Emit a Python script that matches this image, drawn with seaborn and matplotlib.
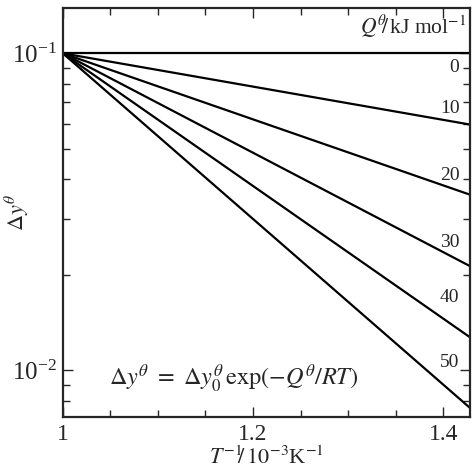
import pandas as pd
import matplotlib
matplotlib.use("Agg")
import matplotlib.pyplot as plt
import seaborn as sns
from matplotlib.ticker import MultipleLocator, LogLocator, NullFormatter

# activation energies (kJ/mol) and the line end values
q_values = [0, 10, 20, 30, 40, 50]
x_start, x_end = 1.0, 1.428
y_start = 0.1
y_end = [0.1, 0.0596, 0.0358, 0.0213, 0.0127, 0.0076]

# where the Q labels sit
label_x = 1.417
label_y = [0.0905, 0.067, 0.0412, 0.0252, 0.0170, 0.0106]

rows = []
for q, ye in zip(q_values, y_end):
    rows.append({"Q": q, "x": x_start, "y": y_start})
    rows.append({"Q": q, "x": x_end, "y": ye})
df = pd.DataFrame(rows)

sns.set_style("ticks")
plt.rcParams["font.family"] = ["Liberation Serif", "DejaVu Serif"]
plt.rcParams["mathtext.fontset"] = "stix"

fig = plt.figure(figsize=(4.76, 4.74), dpi=100)
ax = fig.add_axes([0.132, 0.120, 0.855, 0.863])

sns.lineplot(data=df, x="x", y="y", units="Q", estimator=None,
             color="black", linewidth=1.6, ax=ax, legend=False)

ax.set_yscale("log")
ax.set_xlim(1.0, 1.428)
ax.set_ylim(0.0071, 0.139)

ax.xaxis.set_major_locator(MultipleLocator(0.2))
ax.xaxis.set_minor_locator(MultipleLocator(0.05))
ax.xaxis.set_major_formatter(plt.FuncFormatter(lambda v, p: f"{v:g}"))
ax.yaxis.set_major_locator(LogLocator(base=10, numticks=5))
ax.yaxis.set_minor_locator(LogLocator(base=10, subs=range(2, 10), numticks=20))
ax.yaxis.set_minor_formatter(NullFormatter())

ax.tick_params(which="both", direction="in", top=True, right=True,
               width=1.0, pad=6)
ax.tick_params(axis="x", labelsize=17, pad=5)
ax.tick_params(axis="y", labelsize=18, pad=4)
ax.tick_params(which="major", length=7)
ax.tick_params(which="minor", length=5)
for s in ax.spines.values():
    s.set_linewidth(1.6)

for q, ly in zip(q_values, label_y):
    ax.text(label_x, ly, str(q), ha="right", va="center", fontsize=14)

ax.text(0.99, 0.955, r"$Q^{\theta}\!\!/\,$kJ mol$^{-1}$", transform=ax.transAxes,
        ha="right", va="center", fontsize=15.5)
ax.text(0.113, 0.095, r"$\Delta y^{\theta}\ =\ \Delta y_0^{\theta}\,\exp(-Q^{\theta}/RT)$",
        transform=ax.transAxes, ha="left", va="center", fontsize=17.5)

ax.set_xlabel(r"$T^{-1}\!\!/\,10^{-3}$K$^{-1}$", fontsize=16, labelpad=1)
ax.set_ylabel(r"$\Delta y^{\theta}$", fontsize=16)
ax.yaxis.set_label_coords(-0.078, 0.5)

fig.savefig("out.png", dpi=100)
